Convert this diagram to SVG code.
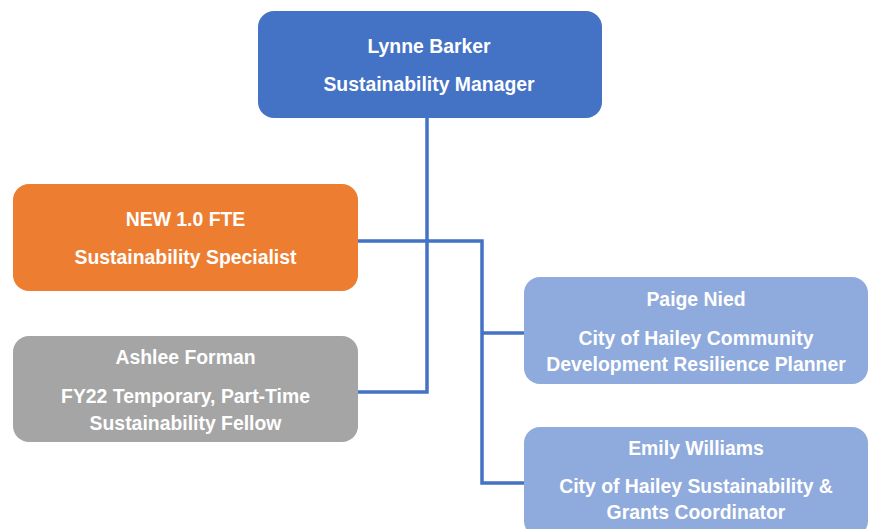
<svg xmlns="http://www.w3.org/2000/svg" width="872" height="529" viewBox="0 0 872 529">
<style>
.t{font-family:"Liberation Sans",Arial,sans-serif;font-weight:bold;font-size:19.4px;fill:#fff;text-anchor:middle}
.c{fill:none;stroke:#4472C4;stroke-width:3.5}
</style>
<rect width="872" height="529" fill="#fff"/>
<g id="connectors">
<polyline class="c" points="427,118 427,392 358,392"/>
<polyline class="c" points="358,241 482,241 482,483 524,483"/>
<line class="c" x1="482" y1="333" x2="524" y2="333"/>
</g>
<g id="lynne">
<rect x="258" y="11" width="344" height="107" rx="16" fill="#4472C4"/>
<text class="t" x="429" y="53">Lynne Barker</text>
<text class="t" x="429" y="91">Sustainability Manager</text>
</g>
<g id="new-fte">
<rect x="13" y="184" width="345" height="107" rx="16" fill="#ED7D31"/>
<text class="t" x="185.5" y="226">NEW 1.0 FTE</text>
<text class="t" x="185.5" y="264">Sustainability Specialist</text>
</g>
<g id="ashlee">
<rect x="13" y="336" width="345" height="106" rx="16" fill="#A5A5A5"/>
<text class="t" x="185.5" y="364">Ashlee Forman</text>
<text class="t" x="185.5" y="403">FY22 Temporary, Part-Time</text>
<text class="t" x="185.5" y="430">Sustainability Fellow</text>
</g>
<g id="paige">
<rect x="524" y="277" width="344" height="107" rx="16" fill="#8FAADC"/>
<text class="t" x="696" y="306">Paige Nied</text>
<text class="t" x="696" y="345">City of Hailey Community</text>
<text class="t" x="696" y="371">Development Resilience Planner</text>
</g>
<g id="emily">
<rect x="524" y="427" width="344" height="110" rx="16" fill="#8FAADC"/>
<text class="t" x="696" y="455">Emily Williams</text>
<text class="t" x="696" y="493">City of Hailey Sustainability &amp;</text>
<text class="t" x="696" y="519">Grants Coordinator</text>
</g>
</svg>
